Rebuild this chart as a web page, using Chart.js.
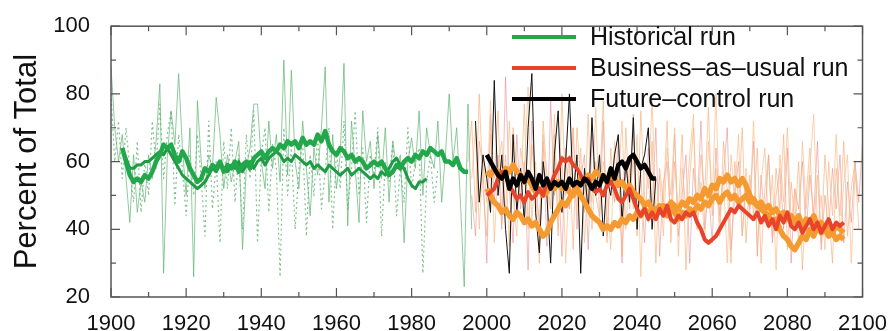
<!DOCTYPE html>
<html>
<head>
<meta charset="utf-8">
<script src="https://cdn.jsdelivr.net/npm/chart.js@4.4.1/dist/chart.umd.min.js"></script>
<style>
  html, body { margin: 0; padding: 0; background: #fff; }
  #wrap { width: 893px; height: 331px; }
</style>
</head>
<body>
<div id="wrap"><canvas id="chart" width="893" height="331"></canvas></div>
<script>
/************************************************
 *  DATA (one value per year)
 ************************************************/
const xTicks = [1900, 1920, 1940, 1960, 1980, 2000, 2020, 2040, 2060, 2080, 2100];
const yTicks = [20, 40, 60, 80, 100];
const legendLabels = ["Historical run", "Business\u2013as\u2013usual run", "Future\u2013control run"];

// Historical run, thin solid member, 1900-1996
const histThinStart = 1900;
const histThin = [
  88, 70, 60, 68, 55, 42, 62, 45, 54, 48,
  62, 55, 66, 83, 27, 62, 75, 65, 86, 64,
  50, 70, 26, 78, 60, 52, 62, 58, 79, 68,
  52, 62, 54, 60, 66, 34, 58, 64, 77, 77,
  60, 52, 72, 58, 68, 54, 90, 56, 87, 60,
  52, 72, 58, 44, 64, 56, 70, 88, 48, 68,
  52, 62, 89, 41, 72, 58, 42, 75, 60, 66,
  52, 68, 55, 70, 48, 66, 58, 62, 36, 60,
  67, 58, 75, 50, 70, 62, 58, 72, 48, 62,
  80, 60, 70, 48, 23, 77, 40
];

// Historical run, thin dotted member, 1900-1987
const histDotStart = 1900;
const histDot = [
  80, 60, 72, 55, 70, 58, 48, 66, 45, 60,
  50, 72, 58, 77, 55, 68, 75, 47, 68, 58,
  44, 62, 50, 68, 55, 38, 72, 46, 60, 36,
  66, 52, 70, 48, 62, 40, 68, 55, 75, 36,
  62, 70, 45, 65, 58, 26, 70, 50, 64, 40,
  58, 66, 38, 62, 50, 68, 46, 57, 70, 40,
  63, 52, 72, 46, 58, 75, 50, 64, 42, 62,
  56, 70, 38, 60, 54, 66, 44, 58, 48, 70,
  52, 60, 64, 27, 54, 62, 48, 58
];

// Historical run, smoothed (thick) 1903-1995
const histThickStart = 1903;
const histThick = [
  64, 60, 56, 54, 55, 54, 56,
  55, 57, 60, 62, 65, 64, 65, 62, 60, 63,
  61, 58, 56, 54, 55, 58, 57, 59, 58, 60,
  57, 59, 58, 60, 57, 59, 60, 58, 61, 62,
  63, 61, 63, 64, 63, 65, 64, 66, 65, 66,
  64, 67, 65, 66, 65, 68, 66, 69, 65, 63,
  62, 64, 63, 61, 62, 60, 61, 60, 58, 59,
  60, 59, 60, 58, 56, 57, 59, 58, 60, 61,
  60, 62, 61, 63, 62, 64, 63, 62, 63, 60,
  60, 59, 61, 58, 57, 57
];

// Historical run, smoothed (medium) 1903-1984
const histMedStart = 1903;
const histMed = [
  64, 61, 58, 58, 59, 59, 60,
  60, 61, 62, 63, 62, 64, 62, 60, 58, 56,
  55, 54, 53, 52, 53, 54, 56, 58, 57, 59,
  58, 57, 59, 58, 60, 57, 59, 60, 58, 60,
  61, 59, 61, 62, 63, 62, 60, 61, 60, 62,
  61, 60, 59, 60, 58, 59, 58, 57, 59, 58,
  57, 56, 57, 58, 56, 57, 58, 57, 56, 55,
  56, 55, 57, 56, 58, 60, 61, 59, 58, 55,
  53, 52, 54, 54, 55
];

// Business-as-usual thin members
const bauThinAStart = 1995;
const bauThinA = [
  60, 72, 45, 80, 52, 38, 68, 55, 75, 42,
  62, 35, 70, 58, 48, 77, 40, 65, 52, 30,
  72, 56, 46, 68, 38, 80, 50, 62, 34, 70,
  55, 45, 74, 40, 60, 52, 78, 36, 64, 48,
  58, 32, 70, 46, 62, 38, 75, 50, 42, 66,
  30, 58, 48, 72, 36, 60, 44, 68, 28, 55,
  70, 40, 62, 50, 76, 44, 58, 38, 66, 52,
  30, 60, 48, 70, 36, 56, 44, 64, 30, 52,
  62, 38, 58, 46, 68, 34, 54, 42, 60, 28,
  50, 64, 40, 56, 36, 62, 46, 30, 58, 44,
  66, 38, 52, 60, 40
];
const bauThinBStart = 1996;
const bauThinB = [
  50, 38, 66, 58, 30, 74, 48, 62, 40, 85,
  52, 36, 68, 46, 60, 28, 72, 54, 42, 66,
  35, 78, 50, 58, 32, 64, 46, 70, 40, 55,
  62, 34, 68, 50, 44, 72, 38, 58, 48, 66,
  30, 60, 52, 74, 40, 56, 36, 64, 46, 70,
  32, 54, 60, 42, 68, 38, 50, 62, 30, 58,
  46, 72, 40, 52, 36, 64, 44, 56, 70, 34,
  50, 60, 38, 54, 46, 66, 32, 56, 42, 62,
  36, 50, 58, 40, 64, 30, 52, 46, 60, 38,
  56, 44, 66, 34, 50, 40, 58, 46, 62, 36,
  54, 42, 60, 48, 66
];
const bauThinCStart = 1996;
const bauThinC = [
  55, 70, 40, 62, 48, 78, 36, 58, 66, 44,
  72, 50, 38, 64, 56, 82, 42, 60, 34, 68,
  52, 46, 74, 40, 62, 30, 58, 70, 44, 64,
  36, 56, 48, 76, 42, 60, 50, 34, 66, 54,
  72, 40, 58, 46, 68, 26, 60, 52, 78, 44,
  56, 38, 64, 50, 70, 32, 58, 46, 62, 74,
  40, 54, 36, 66, 48, 80, 42, 56, 30, 62,
  50, 68, 38, 58, 44, 72, 34, 54, 64, 40,
  56, 28, 62, 48, 70, 42, 52, 36, 66, 46,
  58, 74, 40, 50, 34, 60, 44, 68, 38, 54,
  62, 30, 56, 48
];

// Business-as-usual smoothed, 2000-2095
const bauRedStart = 2000;
const bauRed = [
  50, 51, 52, 55, 57, 56, 53, 51, 49, 50,
  48, 51, 49, 50, 52, 50, 54, 53, 56, 58,
  61, 60, 61, 59, 58, 56, 54, 55, 52, 51,
  52, 50, 53, 54, 52, 49, 48, 50, 52, 49,
  46, 44, 46, 43, 45, 43, 46, 44, 47, 43,
  42, 44, 43, 45, 44, 45, 42, 40, 37, 36,
  37, 38, 40, 42, 44, 46, 45, 47, 46, 45,
  44, 43, 45, 42, 44, 41, 43, 40, 44, 42,
  45, 41, 40, 42, 39, 41, 43, 40, 42, 39,
  41, 43, 40, 42, 41, 42
];
const bauOrange1Start = 2000;
const bauOrange1 = [
  57, 56, 58, 57, 56, 58, 57, 59, 57, 56,
  54, 55, 53, 51, 52, 50, 51, 53, 52, 54,
  52, 53, 51, 50, 52, 50, 48, 46, 44, 43,
  42, 40, 41, 40, 42, 41, 43, 42, 44, 43,
  45, 44, 46, 45, 44, 46, 45, 47, 46, 48,
  47, 46, 48, 47, 49, 48, 50, 49, 52, 50,
  53, 52, 55, 54, 56, 54, 55, 53, 55, 53,
  50, 48, 47, 46, 45, 44, 42, 43, 40, 38,
  37, 35, 34, 36, 38, 37, 40, 38, 41, 39,
  40, 38, 39, 37, 38, 37
];
const bauOrange2Start = 2000;
const bauOrange2 = [
  52, 50, 48, 47, 45, 46, 44, 43, 45, 44,
  42, 43, 41, 42, 40, 38, 39, 42, 44, 46,
  48, 47, 49, 51, 53, 55, 54, 56, 55, 57,
  56, 55, 54, 56, 55, 53, 54, 52, 53, 51,
  50, 49, 47, 48, 46, 45, 47, 45, 44, 46,
  45, 43, 45, 44, 46, 45, 47, 46, 48, 47,
  49, 50, 48, 50, 51, 49, 50, 48, 49, 50,
  48, 49, 47, 48, 46, 47, 45, 46, 44, 45,
  43, 44, 42, 44, 41, 43, 42, 44, 41, 42,
  40, 42, 39, 41, 40, 39
];

// Future-control run
const ctrlThinStart = 1997;
const ctrlThin = [
  72, 48, 62, 55, 45, 84, 50, 62, 40, 27,
  68, 45, 58, 42, 70, 86, 45, 33, 60, 50,
  30, 62, 75, 45, 60, 80, 50, 62, 27, 58,
  45, 73, 50, 62, 38, 55, 50, 62, 68, 42,
  60, 48, 73, 40, 58, 62, 70, 40, 55
];
const ctrlThickStart = 2000;
const ctrlThick = [
  62, 60, 58, 56, 55, 57, 52, 55, 53, 56,
  54, 57, 55, 52, 56, 53, 55, 52, 54, 53,
  54, 52, 55, 53, 54, 53, 55, 54, 52, 54,
  53, 56, 54, 58, 55, 59, 60, 58, 61, 62,
  60, 58, 59, 57, 55, 55
];

/************************************************
 *  HELPERS
 ************************************************/
const FONT = "'Liberation Sans', Arial, Helvetica, sans-serif";
const GREEN = "#22a84b";
const GREEN_DARK = "#1f9a45";
const RED = "#e8432b";
const ORANGE = "#f59a30";

function toPoints(startYear, values) {
  return values.map((v, i) => ({ x: startYear + i, y: v }));
}

function lineSet(label, start, values, color, width, order, dash) {
  return {
    label: label,
    data: toPoints(start, values),
    borderColor: color,
    borderWidth: width,
    borderDash: dash || [],
    pointRadius: 0,
    tension: 0,
    fill: false,
    borderJoinStyle: "round",
    order: order,
  };
}

/************************************************
 *  FRAME, INWARD TICKS AND LEGEND
 ************************************************/
const framePlugin = {
  id: "frame",
  afterDatasetsDraw(chart) {
    const { ctx, chartArea: a, scales } = chart;
    ctx.save();
    ctx.strokeStyle = "#555";
    ctx.lineWidth = 1.5;
    ctx.strokeRect(a.left, a.top, a.right - a.left, a.bottom - a.top);

    ctx.lineWidth = 1.2;
    ctx.beginPath();
    for (let yr = 1900; yr <= 2100; yr += 10) {
      const px = scales.x.getPixelForValue(yr);
      const len = yr % 20 === 0 ? 9 : 5;
      ctx.moveTo(px, a.bottom); ctx.lineTo(px, a.bottom - len);
      ctx.moveTo(px, a.top); ctx.lineTo(px, a.top + len);
    }
    for (let v = 20; v <= 100; v += 10) {
      const py = scales.y.getPixelForValue(v);
      const len = v % 20 === 0 ? 9 : 5;
      ctx.moveTo(a.left, py); ctx.lineTo(a.left + len, py);
      ctx.moveTo(a.right, py); ctx.lineTo(a.right - len, py);
    }
    ctx.stroke();
    ctx.restore();
  },
  afterDraw(chart) {
    const { ctx } = chart;
    const colors = [GREEN, RED, "#000"];
    const rows = [37, 68, 99];
    ctx.save();
    ctx.font = "25px " + FONT;
    ctx.textBaseline = "middle";
    ctx.fillStyle = "#111";
    rows.forEach((y, i) => {
      ctx.strokeStyle = colors[i];
      ctx.lineWidth = 4;
      ctx.beginPath();
      ctx.moveTo(512, y);
      ctx.lineTo(576, y);
      ctx.stroke();
      ctx.fillText(legendLabels[i], 590, y + 1);
    });
    ctx.restore();
  },
};

/************************************************
 *  CHART
 ************************************************/
const ctx = document.getElementById("chart").getContext("2d");
new Chart(ctx, {
  type: "line",
  data: {
    datasets: [
      lineSet("hist thin", histThinStart, histThin, "rgba(95,180,115,0.7)", 1, 20),
      lineSet("hist dotted", histDotStart, histDot, "rgba(95,180,115,0.8)", 1.2, 21, [2, 3]),
      lineSet("bau thin C", bauThinCStart, bauThinC, "rgba(250,190,140,0.7)", 1, 22),
      lineSet("bau thin A", bauThinAStart, bauThinA, "rgba(248,175,120,0.65)", 1, 23),
      lineSet("bau thin B", bauThinBStart, bauThinB, "rgba(228,125,125,0.5)", 1, 24),
      lineSet("ctrl thin", ctrlThinStart, ctrlThin, "#111", 1, 15),
      lineSet("hist medium", histMedStart, histMed, GREEN_DARK, 3, 6),
      lineSet("hist thick", histThickStart, histThick, GREEN, 4.5, 5),
      lineSet("bau orange 2", bauOrange2Start, bauOrange2, ORANGE, 5.5, 4),
      lineSet("bau orange 1", bauOrange1Start, bauOrange1, ORANGE, 5.5, 3),
      lineSet("bau red", bauRedStart, bauRed, RED, 4, 2),
      lineSet("ctrl thick", ctrlThickStart, ctrlThick, "#000", 4.5, 1),
    ],
  },
  options: {
    responsive: false,
    animation: false,
    layout: { padding: { left: 0, top: 17, right: 30, bottom: 0 } },
    plugins: {
      legend: { display: false },
      tooltip: { enabled: false },
    },
    scales: {
      x: {
        type: "linear",
        min: 1900,
        max: 2100,
        afterFit: (s) => { s.height = 34; },
        afterBuildTicks: (s) => { s.ticks = xTicks.map((v) => ({ value: v })); },
        grid: { display: false },
        border: { display: false },
        ticks: {
          autoSkip: false,
          maxRotation: 0,
          padding: 6,
          color: "#111",
          font: { family: FONT, size: 22 },
          callback: (v) => String(v),
        },
      },
      y: {
        min: 20,
        max: 100,
        afterFit: (s) => { s.width = 111; },
        afterBuildTicks: (s) => { s.ticks = yTicks.map((v) => ({ value: v })); },
        grid: { display: false },
        border: { display: false },
        ticks: {
          padding: 13,
          color: "#111",
          font: { family: FONT, size: 22 },
          callback: (v) => String(v),
        },
        title: {
          display: true,
          text: "Percent of Total",
          color: "#111",
          font: { family: FONT, size: 31 },
          padding: { top: 9, bottom: 0 },
        },
      },
    },
  },
  plugins: [framePlugin],
});
</script>
</body>
</html>
